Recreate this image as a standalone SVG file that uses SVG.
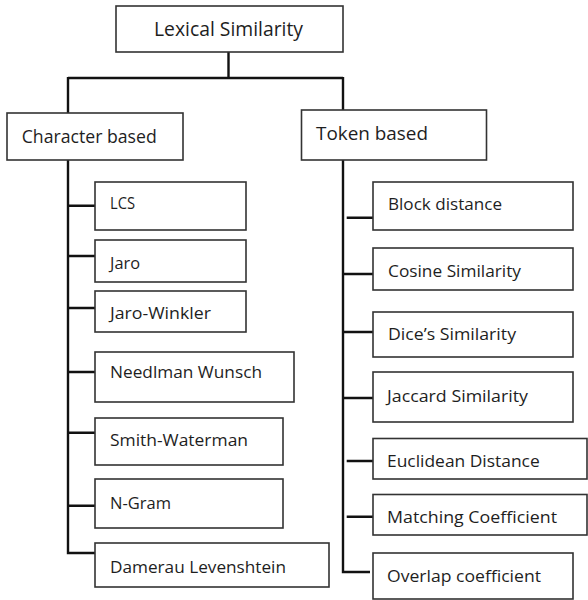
<svg xmlns="http://www.w3.org/2000/svg" width="588" height="600" viewBox="0 0 588 600">
<style>
.box{fill:#fff;stroke:#333;stroke-width:1.6}
.t{font-family:"Open Sans","Liberation Sans",sans-serif;fill:#1e1e1e;font-size:16.5px}
.h{font-size:19px}
.c{fill:none;stroke:#111;stroke-width:2.4;stroke-linecap:butt;stroke-linejoin:miter}
</style>
<rect width="588" height="600" fill="#fff"/>
<g id="connectors">
<path class="c" d="M228.5,52 V78 M68,78 H343 M68,77 V113 M343,77 V110"/>
<path class="c" d="M68,160 V553 H95"/>
<path class="c" d="M68,205.7 H95 M68,256 H95 M68,308 H95 M68,372 H95 M68,432.7 H95 M68,505.7 H95"/>
<path class="c" d="M343,149 V572 H370"/>
<path class="c" d="M346.7,217.7 H373 M343,274 H373 M343,332 H373 M343,398 H373 M346.7,461 H373 M346.7,516.7 H373"/>
</g>
<g id="lexical-similarity"><rect class="box" x="116" y="6" width="227" height="46"/><text class="t h" x="154" y="36" textLength="149" lengthAdjust="spacingAndGlyphs" style="font-size:20.5px">Lexical Similarity</text></g>
<g id="character-based"><rect class="box" x="7" y="113" width="176" height="47"/><text class="t h" x="21.7" y="143" textLength="135" lengthAdjust="spacingAndGlyphs">Character based</text></g>
<g id="token-based"><rect class="box" x="301.5" y="110" width="185" height="50"/><text class="t h" x="316" y="140" textLength="112" lengthAdjust="spacingAndGlyphs">Token based</text></g>
<g id="lcs"><rect class="box" x="95" y="182" width="151" height="48"/><text class="t" x="110" y="209.3" textLength="25" lengthAdjust="spacingAndGlyphs">LCS</text></g>
<g id="jaro"><rect class="box" x="95" y="240" width="151" height="42"/><text class="t" x="110" y="269" textLength="30" lengthAdjust="spacingAndGlyphs">Jaro</text></g>
<g id="jaro-winkler"><rect class="box" x="95" y="291" width="151" height="41"/><text class="t" x="110" y="319" textLength="101" lengthAdjust="spacingAndGlyphs">Jaro-Winkler</text></g>
<g id="needlman-wunsch"><rect class="box" x="95" y="352" width="199" height="50"/><text class="t" x="110" y="378" textLength="152" lengthAdjust="spacingAndGlyphs">Needlman Wunsch</text></g>
<g id="smith-waterman"><rect class="box" x="95" y="418" width="188" height="47"/><text class="t" x="110" y="446" textLength="138" lengthAdjust="spacingAndGlyphs">Smith-Waterman</text></g>
<g id="n-gram"><rect class="box" x="95" y="479" width="188" height="49"/><text class="t" x="110" y="509" textLength="61" lengthAdjust="spacingAndGlyphs">N-Gram</text></g>
<g id="damerau-levenshtein"><rect class="box" x="95" y="543" width="234" height="44"/><text class="t" x="110" y="572.7" textLength="176" lengthAdjust="spacingAndGlyphs">Damerau Levenshtein</text></g>
<g id="block-distance"><rect class="box" x="373" y="182" width="200" height="48"/><text class="t" x="388" y="210" textLength="114" lengthAdjust="spacingAndGlyphs">Block distance</text></g>
<g id="cosine-similarity"><rect class="box" x="373" y="248" width="200" height="42"/><text class="t" x="388" y="277" textLength="133" lengthAdjust="spacingAndGlyphs">Cosine Similarity</text></g>
<g id="dice-similarity"><rect class="box" x="373" y="312" width="200" height="45"/><text class="t" x="388" y="340" textLength="128" lengthAdjust="spacingAndGlyphs">Dice’s Similarity</text></g>
<g id="jaccard-similarity"><rect class="box" x="373" y="372" width="200" height="50"/><text class="t" x="387" y="401.7" textLength="141" lengthAdjust="spacingAndGlyphs">Jaccard Similarity</text></g>
<g id="euclidean-distance"><rect class="box" x="373" y="438.5" width="214" height="40.5"/><text class="t" x="387" y="467" textLength="152.7" lengthAdjust="spacingAndGlyphs">Euclidean Distance</text></g>
<g id="matching-coefficient"><rect class="box" x="373" y="494.5" width="214" height="40.5"/><text class="t" x="387" y="523" textLength="170" lengthAdjust="spacingAndGlyphs">Matching Coefficient</text></g>
<g id="overlap-coefficient"><rect class="box" x="373" y="553" width="200" height="46"/><text class="t" x="387" y="581.7" textLength="154" lengthAdjust="spacingAndGlyphs">Overlap coefficient</text></g>
</svg>
